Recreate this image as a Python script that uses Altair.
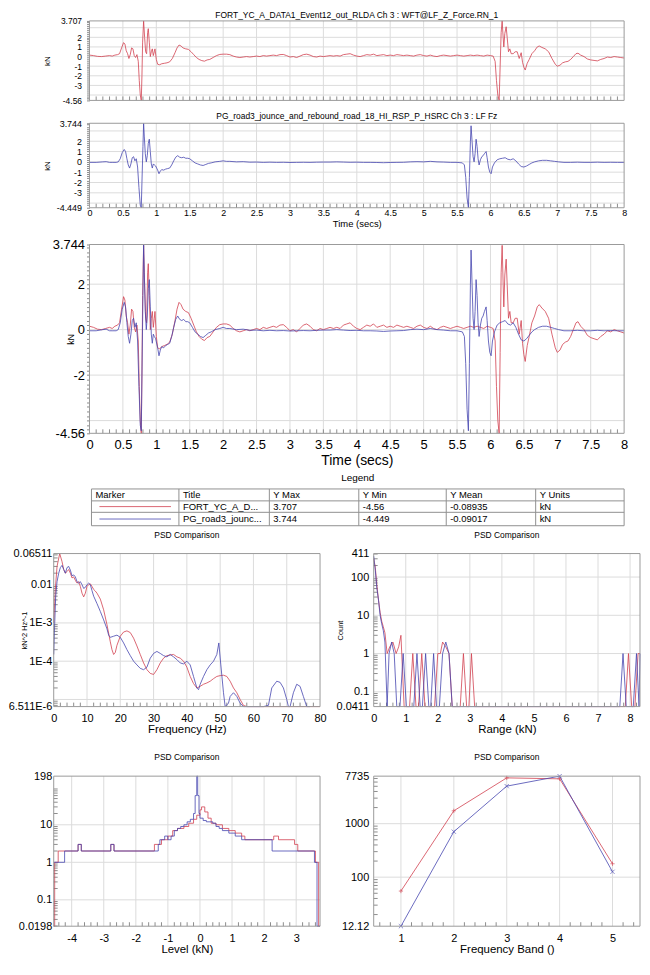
import altair as alt
import numpy as np
import pandas as pd

FONT = "Liberation Sans"
RED = "#d2404f"
BLUE = "#4646b0"
GRID = "#dcdcdc"
FRAME = "#9a9a9a"
TICK = "#8c8c8c"

# ---------------- data ----------------
title_red = "FORT_YC_A_DATA1_Event12_out_RLDA  Ch 3 : WFT@LF_Z_Force.RN_1"
title_blue = "PG_road3_jounce_and_rebound_road_18_HI_RSP_P_HSRC  Ch 3 : LF Fz"
legend_headers = ["Marker", "Title", "Y Max", "Y Min", "Y Mean", "Y Units"]
short_titles = ["FORT_YC_A_D...", "PG_road3_jounc..."]
y_max = [3.707, 3.744]
y_min = [-4.56, -4.449]
y_mean = [-0.08935, -0.09017]
y_units = ["kN", "kN"]

red_pts = [
    (0.00, 0.15), (0.06, 0.10), (0.12, 0.02), (0.18, 0.00), (0.24, 0.05), (0.30, 0.10), (0.34, 0.05),
    (0.38, 0.15), (0.42, 0.20), (0.45, 0.30), (0.48, 0.90), (0.51, 1.45), (0.53, 1.30), (0.55, 0.60),
    (0.57, 0.30), (0.59, -0.20), (0.61, 0.20), (0.63, 0.90), (0.65, 0.80), (0.67, 0.10), (0.69, -0.10),
    (0.71, 0.20), (0.73, -0.50), (0.745, -2.50), (0.76, -4.00), (0.775, -4.56), (0.785, -2.00),
    (0.795, 1.50), (0.81, 3.707), (0.825, 2.00), (0.84, 0.50), (0.855, 0.30), (0.87, 2.50), (0.88, 2.90),
    (0.895, 1.50), (0.91, 0.00), (0.925, 0.50), (0.94, 0.80), (0.955, 0.10), (0.97, 0.50), (0.98, 0.80),
    (1.00, -0.30), (1.02, -0.80), (1.05, -0.85), (1.08, -0.75), (1.12, -0.70), (1.16, -0.65), (1.20, -0.55),
    (1.24, -0.20), (1.28, 0.40), (1.31, 0.90), (1.34, 1.20), (1.37, 1.10), (1.40, 0.90), (1.44, 0.80),
    (1.48, 0.75), (1.52, 0.50), (1.56, 0.20), (1.60, -0.10), (1.64, -0.30), (1.68, -0.42), (1.72, -0.48),
    (1.76, -0.35), (1.80, -0.30), (1.85, -0.10), (1.90, 0.10), (1.95, 0.22), (2.00, 0.25), (2.05, 0.25),
    (2.10, 0.20), (2.15, 0.05), (2.20, -0.05), (2.25, -0.10), (2.30, -0.05), (2.35, 0.00), (2.40, -0.05),
    (2.45, 0.00), (2.50, 0.05), (2.55, 0.00), (2.60, 0.10), (2.65, 0.05), (2.70, 0.10), (2.75, 0.15),
    (2.80, 0.10), (2.85, 0.20), (2.90, 0.22), (2.95, 0.10), (3.00, -0.05), (3.05, 0.00), (3.10, -0.10),
    (3.15, 0.05), (3.20, 0.20), (3.25, 0.25), (3.30, 0.15), (3.35, 0.00), (3.40, -0.05), (3.45, 0.05),
    (3.50, 0.00), (3.55, 0.05), (3.60, 0.10), (3.65, 0.05), (3.70, 0.10), (3.75, 0.05), (3.80, 0.20),
    (3.85, 0.25), (3.90, 0.30), (3.95, 0.15), (4.00, 0.05), (4.05, 0.00), (4.10, 0.10), (4.15, 0.20),
    (4.20, 0.15), (4.25, 0.25), (4.30, 0.10), (4.35, 0.15), (4.40, 0.20), (4.45, 0.10), (4.50, 0.15),
    (4.55, 0.10), (4.60, 0.20), (4.65, 0.15), (4.70, 0.10), (4.75, 0.15), (4.80, 0.10), (4.85, 0.05),
    (4.90, 0.15), (4.95, 0.20), (5.00, 0.10), (5.05, 0.05), (5.10, 0.15), (5.15, 0.05), (5.20, 0.00),
    (5.25, 0.10), (5.30, 0.15), (5.35, 0.10), (5.40, 0.05), (5.45, 0.10), (5.50, 0.15), (5.55, 0.10),
    (5.60, 0.05), (5.65, 0.10), (5.70, 0.15), (5.75, 0.10), (5.80, 0.15), (5.85, 0.10), (5.90, 0.05),
    (5.95, 0.15), (6.00, 0.10), (6.04, 0.05), (6.07, -0.50), (6.09, -2.50), (6.11, -4.00), (6.13, -4.56),
    (6.145, -1.00), (6.16, 2.50), (6.175, 3.707), (6.19, 2.00), (6.20, 1.00), (6.215, 2.40), (6.235, 3.10),
    (6.25, 2.00), (6.27, 0.50), (6.29, 0.80), (6.31, 0.30), (6.34, 0.30), (6.37, 0.50), (6.40, 0.50),
    (6.43, -0.20), (6.46, 0.40), (6.48, -0.60), (6.50, -1.10), (6.52, -1.40), (6.55, -0.70), (6.58, -0.30),
    (6.62, 0.30), (6.66, 0.60), (6.70, 1.00), (6.73, 1.10), (6.77, 0.95), (6.82, 0.80), (6.87, 0.50),
    (6.92, -0.20), (6.97, -0.80), (7.00, -1.00), (7.04, -0.90), (7.08, -0.65), (7.12, -0.55), (7.16, -0.50),
    (7.20, -0.30), (7.24, 0.00), (7.28, 0.30), (7.31, 0.35), (7.35, 0.15), (7.40, 0.00), (7.45, -0.25),
    (7.50, -0.35), (7.55, -0.40), (7.60, -0.45), (7.65, -0.30), (7.70, -0.20), (7.75, -0.05), (7.80, -0.10),
    (7.85, 0.00), (7.90, -0.05), (7.95, -0.10), (8.00, -0.15),
]

blue_pts = [
    (0.00, -0.05), (0.10, -0.05), (0.20, 0.00), (0.25, 0.02), (0.30, -0.05), (0.35, -0.05), (0.40, -0.05),
    (0.43, 0.00), (0.46, 0.30), (0.49, 0.90), (0.52, 1.20), (0.54, 1.00), (0.56, 0.30), (0.58, -0.30),
    (0.60, -0.60), (0.62, -0.20), (0.64, 0.40), (0.66, 0.50), (0.68, 0.10), (0.70, 0.30), (0.72, -0.50),
    (0.74, -2.50), (0.76, -4.20), (0.775, -4.449), (0.785, -2.00), (0.80, 1.50), (0.81, 3.744), (0.82, 2.50),
    (0.835, 0.80), (0.85, 0.00), (0.865, 0.60), (0.88, 1.80), (0.895, 2.20), (0.91, 1.00), (0.925, -0.20),
    (0.94, -0.60), (0.955, -0.20), (0.97, -0.30), (0.99, -0.40), (1.02, -0.80), (1.04, -1.15), (1.06, -0.90),
    (1.08, -0.75), (1.11, -0.80), (1.14, -0.70), (1.17, -0.65), (1.20, -0.60), (1.23, -0.30), (1.26, 0.10),
    (1.29, 0.45), (1.32, 0.60), (1.35, 0.45), (1.38, 0.40), (1.41, 0.45), (1.44, 0.35), (1.47, 0.35),
    (1.50, 0.30), (1.54, 0.10), (1.58, -0.10), (1.62, -0.20), (1.66, -0.30), (1.70, -0.35), (1.74, -0.25),
    (1.78, -0.15), (1.82, -0.10), (1.88, 0.00), (1.95, 0.05), (2.00, 0.10), (2.05, 0.05), (2.10, 0.05),
    (2.20, 0.00), (2.30, 0.02), (2.40, -0.03), (2.50, -0.02), (2.60, -0.05), (2.70, -0.03), (2.80, -0.05),
    (2.90, -0.04), (3.00, -0.06), (3.10, -0.05), (3.20, -0.04), (3.30, -0.05), (3.40, -0.03), (3.50, -0.02),
    (3.60, -0.02), (3.70, 0.00), (3.80, -0.02), (3.90, -0.04), (4.00, -0.03), (4.10, -0.05), (4.20, -0.05),
    (4.30, -0.06), (4.40, -0.08), (4.50, -0.06), (4.60, -0.05), (4.70, -0.04), (4.80, 0.00), (4.90, 0.02),
    (5.00, 0.00), (5.10, 0.05), (5.20, 0.00), (5.30, -0.02), (5.40, -0.05), (5.50, -0.05), (5.58, -0.10),
    (5.61, -0.30), (5.63, -1.50), (5.65, -3.50), (5.67, -4.449), (5.685, -1.50), (5.70, 2.00), (5.71, 3.50),
    (5.725, 2.00), (5.74, 0.50), (5.755, 0.00), (5.77, 0.80), (5.785, 2.20), (5.80, 1.50), (5.815, 0.30),
    (5.83, -0.30), (5.85, 0.20), (5.87, 0.50), (5.89, 0.60), (5.91, 0.80), (5.935, 1.00), (5.95, 0.40),
    (5.97, -0.50), (5.99, -1.00), (6.01, -1.15), (6.03, -0.50), (6.06, -0.10), (6.10, 0.20), (6.14, 0.30),
    (6.18, 0.35), (6.22, 0.40), (6.26, 0.25), (6.30, 0.20), (6.34, 0.30), (6.38, 0.10), (6.42, -0.20),
    (6.46, -0.45), (6.50, -0.50), (6.54, -0.40), (6.58, -0.25), (6.62, -0.10), (6.66, 0.00), (6.72, 0.10),
    (6.78, 0.15), (6.84, 0.15), (6.90, 0.10), (6.96, 0.05), (7.02, 0.00), (7.10, -0.05), (7.20, -0.05),
    (7.30, -0.03), (7.40, -0.05), (7.50, -0.05), (7.60, -0.03), (7.70, -0.05), (7.80, -0.04), (7.90, -0.05),
    (8.00, -0.05),
]

psd_red = [
    (0, 1.0e-3), (0.5, 8e-3), (1.0, 0.03), (1.8, 0.065), (2.5, 0.04), (3.0, 0.025), (3.5, 0.02), (4.0, 0.022),
    (4.5, 0.025), (5.0, 0.02), (5.5, 0.015), (6.0, 0.016), (6.5, 0.013), (7.0, 0.011), (7.5, 0.012),
    (8.0, 0.009), (8.5, 0.006), (9.0, 0.0048), (9.5, 0.006), (10.0, 0.009), (10.5, 0.010), (11.0, 0.0105),
    (11.5, 0.009), (12.0, 0.0075), (12.5, 0.0068), (13.0, 0.006), (14.0, 0.0042), (15.0, 0.0022),
    (16.0, 0.0009), (17.0, 0.00032), (17.5, 0.0002), (18.0, 0.00015), (18.5, 0.00017), (19.0, 0.00026),
    (20.0, 0.00045), (21.0, 0.00058), (22.0, 0.00062), (23.0, 0.00056), (24.0, 0.0004), (25.0, 0.00025),
    (26.0, 0.00015), (27.0, 0.00009), (28.0, 0.00006), (29.0, 0.000048), (30.0, 0.000045), (31.0, 0.00006),
    (32.0, 0.00009), (33.0, 0.00012), (34.0, 0.00014), (35.0, 0.000145), (36.0, 0.00015), (37.0, 0.00013),
    (38.0, 0.00012), (39.0, 0.0001), (40.0, 0.00007), (41.0, 0.00004), (42.0, 0.000026), (43.0, 0.00002),
    (44.0, 0.000022), (45.0, 0.000025), (46.0, 0.000027), (47.0, 0.00003), (48.0, 0.000035), (49.0, 0.00004),
    (50.0, 0.000042), (51.0, 0.000043), (52.0, 0.00004), (53.0, 0.00003), (54.0, 0.00002), (55.0, 0.000015),
    (56.0, 0.00001), (57.0, 0.000007), (58.0, 0.000004), (60.0, 0.000003), (80.0, 0.000003),
]

psd_blue = [
    (0, 1.5e-4), (0.3, 0.001), (0.6, 0.005), (1.0, 0.012), (1.5, 0.02), (2.0, 0.028), (2.5, 0.032),
    (3.0, 0.025), (3.5, 0.02), (4.0, 0.028), (4.5, 0.03), (5.0, 0.024), (5.5, 0.017), (6.0, 0.018),
    (6.5, 0.016), (7.0, 0.012), (7.5, 0.011), (8.0, 0.012), (8.5, 0.01), (9.0, 0.008), (9.5, 0.0085),
    (10.0, 0.01), (10.5, 0.011), (11.0, 0.01), (11.5, 0.007), (12.0, 0.005), (13.0, 0.0032), (14.0, 0.002),
    (15.0, 0.0012), (16.0, 0.0007), (16.5, 0.00048), (17.0, 0.00042), (18.0, 0.00045), (19.0, 0.00048),
    (20.0, 0.00042), (21.0, 0.0003), (22.0, 0.0002), (23.0, 0.00014), (24.0, 0.0001), (25.0, 0.00008),
    (26.0, 0.000065), (27.0, 0.00006), (28.0, 0.00007), (29.0, 0.00012), (30.0, 0.00016), (31.0, 0.00018),
    (32.0, 0.00016), (33.0, 0.00014), (34.0, 0.00013), (35.0, 0.00015), (36.0, 0.00013), (37.0, 0.00011),
    (38.0, 0.00009), (39.0, 0.000085), (40.0, 0.0001), (41.0, 0.00008), (42.0, 0.00004), (43.0, 0.00002),
    (43.5, 0.000018), (44.0, 0.000025), (45.0, 0.00004), (46.0, 0.00006), (47.0, 0.00008), (48.0, 0.0001),
    (49.0, 0.00015), (49.6, 0.0003), (50.2, 0.00008), (51.0, 0.000015), (51.5, 0.000005), (52.5, 0.000008),
    (53.0, 0.000012), (54.0, 0.000015), (55.0, 0.000012), (56.0, 0.000008), (57.0, 0.000005),
    (58.0, 0.000003), (63.0, 0.000003), (64.5, 0.000007), (65.5, 0.00002), (67.0, 0.00003), (68.0, 0.000028),
    (69.0, 0.00002), (70.0, 0.00001), (70.5, 0.000005), (71.0, 0.000003), (72.0, 0.000015), (73.0, 0.000025),
    (74.0, 0.000022), (75.0, 0.000012), (76.0, 0.000005), (77.0, 0.000003),
]

range_red = [
    (0, 300), (0.05, 180), (0.1, 60), (0.15, 25), (0.2, 12), (0.25, 7), (0.3, 5), (0.35, 3.5), (0.42, 1.0),
    (0.5, 1.5), (0.6, 2), (0.7, 1), (0.78, 1.5), (0.85, 3), (0.95, 0.02), (1.12, 0.02), (1.22, 1), (1.32, 0.02),
    (1.40, 0.02), (1.50, 1), (1.60, 0.02), (1.90, 0.02), (2.00, 1), (2.08, 1), (2.15, 2), (2.25, 1.5),
    (2.35, 1), (2.45, 0.02), (2.70, 0.02), (2.80, 1), (2.90, 0.02), (2.97, 0.02), (3.05, 1), (3.15, 0.02),
    (7.85, 0.02), (7.95, 1), (8.05, 0.02), (8.15, 0.02), (8.25, 1), (8.31, 1),
]

range_blue = [
    (0, 350), (0.05, 150), (0.1, 50), (0.15, 25), (0.2, 10), (0.25, 6), (0.3, 4), (0.35, 2), (0.42, 0.02),
    (0.48, 1), (0.56, 2), (0.64, 1), (0.72, 0.02), (0.82, 0.02), (0.92, 1), (1.02, 0.02), (1.25, 0.02),
    (1.35, 1), (1.45, 0.02), (1.52, 0.02), (1.62, 1), (1.72, 0.02), (1.78, 0.02), (1.87, 1), (1.96, 0.02),
    (2.05, 0.02), (2.15, 1), (2.25, 2), (2.35, 1), (2.45, 0.02), (2.55, 0.02), (7.68, 0.02), (7.78, 1),
    (7.88, 0.02), (8.10, 0.02), (8.20, 1), (8.28, 0.02), (8.31, 1),
]

level_red = [
    (-4.56, 0.01), (-4.53, 1), (-4.42, 2), (-3.80, 3), (-3.70, 2), (-2.78, 3), (-2.68, 2), (-1.42, 3),
    (-1.20, 4), (-1.00, 5), (-0.85, 7), (-0.70, 8), (-0.50, 9), (-0.35, 11), (-0.20, 14), (-0.10, 18),
    (0.00, 25), (0.05, 30), (0.15, 22), (0.25, 15), (0.35, 11), (0.50, 10), (0.70, 8), (0.90, 7), (1.10, 6),
    (1.30, 5), (1.40, 4), (2.30, 5), (2.45, 4), (2.95, 3), (3.05, 2), (3.60, 1), (3.70, 0.01), (3.744, 0.01),
]

level_blue = [
    (-4.56, 1), (-4.22, 2), (-3.80, 3), (-3.70, 2), (-2.78, 3), (-2.68, 2), (-1.30, 3), (-1.25, 4),
    (-1.10, 5), (-1.00, 4), (-0.90, 5), (-0.80, 7), (-0.70, 8), (-0.60, 9), (-0.50, 10), (-0.40, 12),
    (-0.30, 14), (-0.20, 20), (-0.15, 60), (-0.10, 198), (-0.07, 60), (-0.03, 20), (0.00, 15), (0.10, 13),
    (0.20, 12), (0.40, 11), (0.50, 9), (0.60, 8), (0.70, 7), (0.90, 6), (1.10, 5), (1.30, 4), (2.25, 2),
    (3.57, 1), (3.65, 0.01), (3.744, 0.01),
]

band_x = [1, 2, 3, 4, 5]
band_red = [55, 1740, 7180, 6890, 178]
band_blue = [12.12, 708, 5030, 7735, 126]

# ---------------- layout (chart pixels) ----------------
W, H = 636, 921
P = {
    "top1": dict(L=82, R=620, T=10, B=90),
    "top2": dict(L=82, R=620, T=113, B=198),
    "big": dict(L=82, R=620, T=235, B=425),
    "psd": dict(L=46, R=314, T=546, B=700),
    "rng": dict(L=368, R=636, T=546, B=700),
    "lvl": dict(L=46, R=314, T=770, B=921),
    "band": dict(L=368, R=636, T=770, B=921),
}
ONE = pd.DataFrame({"a": [0]})


def df_xy(pts):
    return pd.DataFrame({"x": [p[0] for p in pts], "y": [p[1] for p in pts]})


def arr(vals):
    return "[" + ",".join(repr(float(v)) for v in vals) + "]"


def map_expr(m):
    parts = [f"datum.value === {repr(float(k))} ? '{v}'" for k, v in m.items()]
    return " : ".join(parts) + " : ''"


def sx(p, dom):
    return alt.Scale(domain=dom, range=[p["L"], p["R"]], nice=False, zero=False)


def sy(p, dom, log=False):
    if log:
        return alt.Scale(type="log", domain=dom, range=[p["B"], p["T"]], nice=False, clamp=True)
    return alt.Scale(domain=dom, range=[p["B"], p["T"]], nice=False, zero=False, clamp=True)


def frame(p):
    return alt.Chart(ONE).mark_rect(fillOpacity=0, stroke=FRAME, strokeWidth=1).encode(
        x=alt.value(p["L"]), x2=alt.value(p["R"]), y=alt.value(p["T"]), y2=alt.value(p["B"]))


def text_at(x, y, txt, size, align="center"):
    return alt.Chart(ONE).mark_text(fontSize=size, align=align, baseline="middle", color="black").encode(
        x=alt.value(x), y=alt.value(y), text=alt.value(txt))


def grid_layers(p, xs_, ys_, xgrid, ygrid, xminor):
    gx = alt.Chart(pd.DataFrame({"g": xgrid})).mark_rule(color=GRID, strokeWidth=1).encode(
        x=alt.X("g:Q", scale=xs_, axis=None), y=alt.value(p["T"]), y2=alt.value(p["B"]))
    gy = alt.Chart(pd.DataFrame({"g": ygrid})).mark_rule(color=GRID, strokeWidth=1).encode(
        y=alt.Y("g:Q", scale=ys_, axis=None), x=alt.value(p["L"]), x2=alt.value(p["R"]))
    mx = alt.Chart(pd.DataFrame({"m": xminor})).mark_rule(color=TICK, strokeWidth=1).encode(
        x=alt.X("m:Q", scale=xs_, axis=None), y=alt.value(p["B"] - 4), y2=alt.value(p["B"]))
    return [gx, gy, mx]


T_GRID = [0.5 * i for i in range(1, 16)]
T_MINOR = [round(0.1 * i, 1) for i in range(1, 80)]
T_LABELS = [0.5 * i for i in range(0, 17)]


def time_panel(p, series, ydom, ylabels, ygrid, title=None, title_dy=6, xlab=False, lab_font=8.5,
               ttl_font=8, ytitle_x=-42, ylabpad=5, xlabpad=1, xtitle_dy=13, xtitle_font=9.5):
    xs_ = sx(p, [0, 8])
    ys_ = sy(p, ydom)
    yminor = [round(v, 2) for v in np.arange(np.ceil(ydom[0] / 0.2) * 0.2, ydom[1], 0.2)
              if min(abs(v - l) for l in ylabels) > 0.05]
    yaxis = alt.Axis(orient="left", offset=-p["L"], values=list(ylabels) + yminor,
                     labelExpr=f"indexof({arr(ylabels)}, datum.value) >= 0 ? '' + datum.value : ''",
                     ticks=True, tickSize=3, tickColor=TICK, labelPadding=ylabpad, labelFontSize=lab_font,
                     labelOverlap=False, labelFlush=False, domain=False, grid=False,
                     title="kN", titleFontSize=ttl_font, titleX=ytitle_x, titleBaseline="middle")
    if xlab:
        xaxis = alt.Axis(orient="bottom", offset=p["B"] - H, values=T_LABELS, labelExpr="'' + datum.value",
                         ticks=False, domain=False, grid=False, labelPadding=xlabpad, labelFontSize=lab_font,
                         labelFlush=False, labelOverlap=False, title="Time (secs)", titleFontSize=xtitle_font,
                         titleY=xtitle_dy, titleBaseline="middle")
    else:
        xaxis = None
    layers = grid_layers(p, xs_, ys_, T_GRID, ygrid, T_MINOR)
    for i, (pts, color) in enumerate(series):
        layers.append(
            alt.Chart(df_xy(pts)).mark_line(color=color, strokeWidth=0.8).encode(
                x=alt.X("x:Q", scale=xs_, axis=xaxis if i == 0 else None),
                y=alt.Y("y:Q", scale=ys_, axis=yaxis if i == 0 else None),
                order="x:Q",
            )
        )
    layers.append(frame(p))
    if title:
        layers.append(text_at((p["L"] + p["R"]) / 2, p["T"] - title_dy, title, 8.5))
    return layers


def log_minor(lo, hi):
    out = []
    for e in range(-7, 5):
        for d in range(2, 10):
            v = d * 10.0 ** e
            if lo < v < hi:
                out.append(float(f"{v:.3g}"))
    return out


def log_panel(p, lines, xdom, ydom, xlabels, ylab_map, xgrid, ygrid, xminor, xtitle, ytitle=None,
              ytitle_x=-30, ylabpad=2, xlabpad=6, points=None):
    xs_ = sx(p, xdom)
    ys_ = sy(p, ydom, log=True)
    yaxis = alt.Axis(orient="left", offset=-p["L"], values=list(ylab_map.keys()), labelExpr=map_expr(ylab_map),
                     ticks=False, domain=False, grid=False, labelPadding=ylabpad, labelFontSize=11,
                     labelOverlap=False, labelFlush=False, title=ytitle if ytitle else "",
                     titleFontSize=7.5, titleX=ytitle_x, titleBaseline="middle")
    xaxis = alt.Axis(orient="bottom", offset=p["B"] - H, values=xlabels, labelExpr="'' + datum.value",
                     ticks=False, domain=False, grid=False, labelPadding=xlabpad, labelFontSize=11,
                     labelOverlap=False, labelFlush=False, title=xtitle, titleFontSize=11.5, titleY=23.5,
                     titleBaseline="middle")
    layers = grid_layers(p, xs_, ys_, xgrid, ygrid, xminor)
    layers.append(
        alt.Chart(pd.DataFrame({"m": log_minor(ydom[0], ydom[1])})).mark_rule(color=TICK, strokeWidth=1).encode(
            y=alt.Y("m:Q", scale=ys_, axis=None), x=alt.value(p["L"]), x2=alt.value(p["L"] + 4)))
    for i, (df, color, interp) in enumerate(lines):
        layers.append(
            alt.Chart(df).mark_line(color=color, strokeWidth=0.8, interpolate=interp).encode(
                x=alt.X("x:Q", scale=xs_, axis=xaxis if i == 0 else None),
                y=alt.Y("y:Q", scale=ys_, axis=yaxis if i == 0 else None),
                order="x:Q",
            )
        )
    if points:
        for df, color, shape in points:
            layers.append(
                alt.Chart(df).mark_point(shape=shape, filled=False, size=18, strokeWidth=0.9, color=color).encode(
                    x=alt.X("x:Q", scale=xs_, axis=None), y=alt.Y("y:Q", scale=ys_, axis=None))
            )
    layers.append(frame(p))
    layers.append(text_at((p["L"] + p["R"]) / 2, p["T"] - 19, "PSD Comparison", 8.5))
    return layers


layers = []
layers += time_panel(P["top1"], [(red_pts, RED)], [-4.56, 3.707], [3.707, 2, 1, 0, -1, -2, -3, -4.56],
                     [-4, -3, -2, -1, 0, 1, 2, 3], title=title_red, title_dy=5.5)
layers += time_panel(P["top2"], [(blue_pts, BLUE)], [-4.449, 3.744], [3.744, 2, 1, 0, -1, -2, -3, -4.449],
                     [-4, -3, -2, -1, 0, 1, 2, 3], title=title_blue, title_dy=7, xlab=True, lab_font=9,
                     xlabpad=1, xtitle_dy=15.5)
layers += time_panel(P["big"], [(red_pts, RED), (blue_pts, BLUE)], [-4.56, 3.744], [3.744, 2, 0, -2, -4.56],
                     [-4, -2, 0, 2], xlab=True, lab_font=13, ttl_font=9, ytitle_x=-19, ylabpad=2,
                     xlabpad=5, xtitle_dy=27, xtitle_font=14)

# ---------------- legend table ----------------
col_edges = [84, 172, 263, 353, 441, 531, 620]
row_edges = [481, 493, 504.5, 518]
row_mid = [487, 498.75, 511.25]
cells = []
for j, h in enumerate(legend_headers):
    cells.append({"x": col_edges[j] + 4, "y": row_mid[0], "text": h})
for i in range(2):
    vals = ["", short_titles[i], str(y_max[i]), str(y_min[i]), str(y_mean[i]), y_units[i]]
    for j, v in enumerate(vals):
        if v:
            cells.append({"x": col_edges[j] + 4, "y": row_mid[i + 1], "text": v})
cells_df = pd.DataFrame(cells)
tx = alt.Scale(domain=[0, W], range=[0, W], nice=False, zero=False)
ty = alt.Scale(domain=[0, H], range=[0, H], nice=False, zero=False)
hl = pd.DataFrame({"x": [col_edges[0]] * 4, "x2": [col_edges[-1]] * 4, "y": row_edges, "y2": row_edges})
vl = pd.DataFrame({"x": col_edges, "x2": col_edges, "y": [row_edges[0]] * 7, "y2": [row_edges[-1]] * 7})
borders = pd.concat([hl, vl], ignore_index=True)
marker_df = pd.DataFrame({"x": [92, 92], "x2": [164, 164], "y": row_mid[1:], "c": [RED, BLUE]})
layers.append(alt.Chart(borders).mark_rule(color="#909090", strokeWidth=1).encode(
    x=alt.X("x:Q", scale=tx, axis=None), x2="x2:Q", y=alt.Y("y:Q", scale=ty, axis=None), y2="y2:Q"))
layers.append(alt.Chart(marker_df).mark_rule(strokeWidth=0.8).encode(
    x=alt.X("x:Q", scale=tx, axis=None), x2="x2:Q", y=alt.Y("y:Q", scale=ty, axis=None),
    color=alt.Color("c:N", scale=None)))
layers.append(alt.Chart(cells_df).mark_text(align="left", baseline="middle", fontSize=9.5, color="black").encode(
    x=alt.X("x:Q", scale=tx, axis=None), y=alt.Y("y:Q", scale=ty, axis=None), text="text:N"))
layers.append(text_at((col_edges[0] + col_edges[-1]) / 2, 470, "Legend", 10))

# ---------------- bottom panels ----------------
layers += log_panel(
    P["psd"], [(df_xy(psd_red), RED, "linear"), (df_xy(psd_blue), BLUE, "linear")],
    [0, 80], [6.511e-6, 0.06511], [0, 10, 20, 30, 40, 50, 60, 70, 80],
    {6.511e-6: "6.511E-6", 1e-4: "1E-4", 1e-3: "1E-3", 0.01: "0.01", 0.06511: "0.06511"},
    [10, 20, 30, 40, 50, 60, 70], [1e-5, 1e-4, 1e-3, 1e-2],
    [v for v in range(2, 80, 2) if v % 10], "Frequency (Hz)", ytitle="kN^2 Hz^-1", ytitle_x=-29)
layers += log_panel(
    P["rng"], [(df_xy(range_red), RED, "linear"), (df_xy(range_blue), BLUE, "linear")],
    [0, 8.31], [0.0411, 411], [0, 1, 2, 3, 4, 5, 6, 7, 8],
    {0.0411: "0.0411", 0.1: "0.1", 1: "1", 10: "10", 100: "100", 411: "411"},
    [1, 2, 3, 4, 5, 6, 7, 8], [0.1, 1, 10, 100],
    [round(0.2 * i, 1) for i in range(1, 42) if i % 5], "Range (kN)", ytitle="Count", ytitle_x=-33, ylabpad=5)
layers += log_panel(
    P["lvl"], [(df_xy(level_red), RED, "step-after"), (df_xy(level_blue), BLUE, "step-after")],
    [-4.56, 3.744], [0.0198, 198], [-4, -3, -2, -1, 0, 1, 2, 3],
    {0.0198: "0.0198", 0.1: "0.1", 1: "1", 10: "10", 198: "198"},
    [-4, -3, -2, -1, 0, 1, 2, 3], [0.1, 1, 10],
    [round(-4.4 + 0.2 * i, 1) for i in range(0, 41) if round(-4.4 + 0.2 * i, 1) % 1 != 0],
    "Level (kN)")
layers += log_panel(
    P["band"], [(pd.DataFrame({"x": band_x, "y": band_red}), RED, "linear"),
                (pd.DataFrame({"x": band_x, "y": band_blue}), BLUE, "linear")],
    [0.485, 5.52], [12.12, 7735], [1, 2, 3, 4, 5],
    {12.12: "12.12", 100: "100", 1000: "1000", 7735: "7735"},
    [1, 2, 3, 4, 5], [100, 1000],
    [round(0.6 + 0.2 * i, 1) for i in range(0, 25) if round(0.6 + 0.2 * i, 1) % 1 != 0],
    "Frequency Band ()", ylabpad=5,
    points=[(pd.DataFrame({"x": band_x, "y": band_red}), RED, "M-1,0L1,0M0,-1L0,1"),
            (pd.DataFrame({"x": band_x, "y": band_blue}), BLUE, "M-1,-1L1,1M-1,1L1,-1")])

chart = alt.layer(*layers).resolve_scale(x="independent", y="independent").properties(
    width=W, height=H, padding=0, background="white"
).configure_view(strokeWidth=0).configure_axis(
    labelFont=FONT, titleFont=FONT, labelColor="black", titleColor="black", titleFontWeight="normal"
).configure_text(font=FONT)

chart.save("out.html", embed_options={"renderer": "svg", "actions": False})
